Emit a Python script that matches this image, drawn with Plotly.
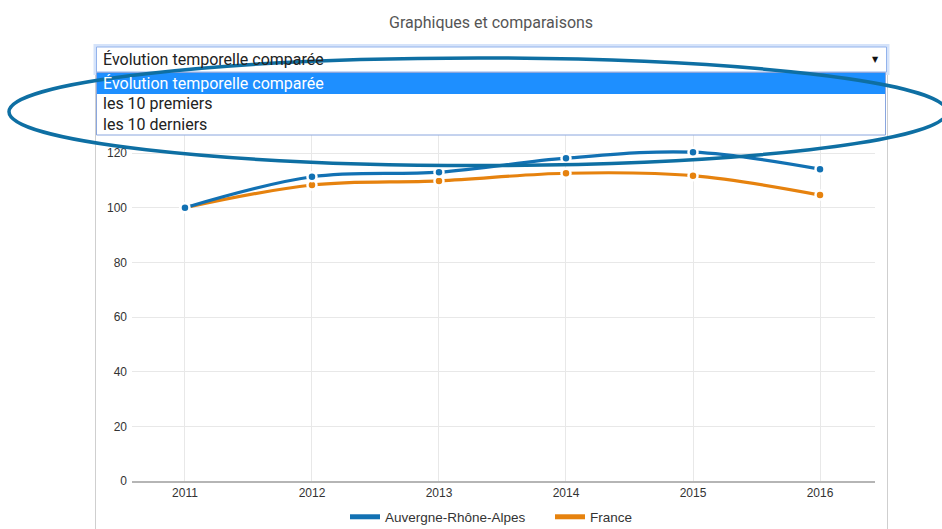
import plotly.graph_objects as go

years = [2011, 2012, 2013, 2014, 2015, 2016]
auvergne = [100, 111.3, 113.0, 118.1, 120.3, 114.1]
france = [100, 108.3, 109.8, 112.6, 111.7, 104.6]
series_names = ["Auvergne-Rhône-Alpes", "France"]
menu_items = ["Évolution temporelle comparée", "les 10 premiers", "les 10 derniers"]
title_text = "Graphiques et comparaisons"

W, H = 942, 529
L, R, T, B = 132, 875, 135, 481


def px(x):
    return (x - L) / (R - L)


def py(y):
    return (B - y) / (B - T)


BLUE = "#1271b3"
ORANGE = "#e6820e"

fig = go.Figure()
fig.add_trace(go.Scatter(
    x=years, y=france, name=series_names[1], mode="lines+markers", showlegend=False,
    line=dict(color=ORANGE, width=3.2, shape="spline"),
    marker=dict(size=9, color=ORANGE, line=dict(color="white", width=2.5))))
fig.add_trace(go.Scatter(
    x=years, y=auvergne, name=series_names[0], mode="lines+markers", showlegend=False,
    line=dict(color=BLUE, width=3.2, shape="spline"),
    marker=dict(size=9, color=BLUE, line=dict(color="white", width=2.5))))
# legend entries (line only, no marker)
for name, col in zip(series_names, [BLUE, ORANGE]):
    fig.add_trace(go.Scatter(x=[None], y=[None], name=name, mode="lines",
                             line=dict(color=col, width=5), hoverinfo="skip"))

shapes = []
# container borders
shapes.append(dict(type="line", xref="paper", yref="paper", x0=px(95.5), x1=px(95.5), y0=py(72), y1=py(529),
                   line=dict(color="#cfcfcf", width=1), layer="below"))
shapes.append(dict(type="line", xref="paper", yref="paper", x0=px(887.5), x1=px(887.5), y0=py(72), y1=py(529),
                   line=dict(color="#cfcfcf", width=1), layer="below"))
# dropdown glow + box
shapes.append(dict(type="rect", xref="paper", yref="paper", x0=px(95), x1=px(888), y0=py(73.5), y1=py(45.5),
                   line=dict(color="#d5e3fa", width=3), fillcolor="white", layer="above"))
shapes.append(dict(type="rect", xref="paper", yref="paper", x0=px(96.5), x1=px(886.5), y0=py(72), y1=py(47),
                   line=dict(color="#93b3ec", width=1), fillcolor="white", layer="above"))
# list box
shapes.append(dict(type="rect", xref="paper", yref="paper", x0=px(96.5), x1=px(885.5), y0=py(135), y1=py(72.5),
                   line=dict(color="#8aa6de", width=1), fillcolor="white", layer="above"))
# highlight
shapes.append(dict(type="rect", xref="paper", yref="paper", x0=px(97), x1=px(885), y0=py(94), y1=py(73),
                   line=dict(width=0), fillcolor="#1e8fff", layer="above"))
# annotation ellipse
shapes.append(dict(type="circle", xref="paper", yref="paper", x0=px(9), x1=px(947), y0=py(165.5), y1=py(58),
                   line=dict(color="#0e6fa3", width=3.5), layer="above"))

annotations = []
annotations.append(dict(text=title_text, xref="paper", yref="paper", x=px(491), y=py(23),
                        xanchor="center", yanchor="middle", showarrow=False,
                        font=dict(family="Roboto", size=16, color="#555555")))
annotations.append(dict(text=menu_items[0], xref="paper", yref="paper", x=px(101), y=py(60),
                        xanchor="left", yanchor="middle", showarrow=False,
                        font=dict(family="Roboto", size=16, color="#222222")))
annotations.append(dict(text="▼", xref="paper", yref="paper", x=px(875), y=py(60),
                        xanchor="center", yanchor="middle", showarrow=False,
                        font=dict(family="DejaVu Sans", size=8, color="#111111")))
item_y = [83.5, 103.5, 124]
for i, t in enumerate(menu_items):
    annotations.append(dict(text=t, xref="paper", yref="paper", x=px(101), y=py(item_y[i]),
                            xanchor="left", yanchor="middle", showarrow=False,
                            font=dict(family="Roboto", size=16, color="white" if i == 0 else "#222222")))

fig.update_layout(
    width=W, height=H,
    margin=dict(l=L, r=W - R, t=T, b=H - B, pad=0, autoexpand=False),
    paper_bgcolor="white", plot_bgcolor="white",
    font=dict(family="Liberation Sans, Arial", size=12, color="#444444"),
    showlegend=True,
    legend=dict(orientation="h", x=px(345), xanchor="left", y=py(517), yanchor="middle",
                itemwidth=30, entrywidth=160, entrywidthmode="pixels",
                font=dict(family="Liberation Sans, Arial", size=13.5, color="#333333"),
                bgcolor="rgba(0,0,0,0)"),
    shapes=shapes, annotations=annotations,
)
fig.update_xaxes(range=[2010.583, 2016.433], tickvals=years, ticktext=[str(y) for y in years],
                 showgrid=True, gridcolor="#e8e8e8", gridwidth=1,
                 showline=True, linecolor="#b5b5b5", linewidth=2, zeroline=False,
                 ticks="", tickfont=dict(size=12, color="#333333"), fixedrange=True)
fig.update_yaxes(range=[0, (B - T) / 2.7333], tickvals=[0, 20, 40, 60, 80, 100, 120],
                 showgrid=True, gridcolor="#e8e8e8", gridwidth=1, zeroline=False, showline=False,
                 ticks="", ticklabelstandoff=4, tickfont=dict(size=12, color="#333333"), fixedrange=True)

fig.write_html("out.html", config={"displayModeBar": False},
               post_script="document.body.style.margin='0';")
